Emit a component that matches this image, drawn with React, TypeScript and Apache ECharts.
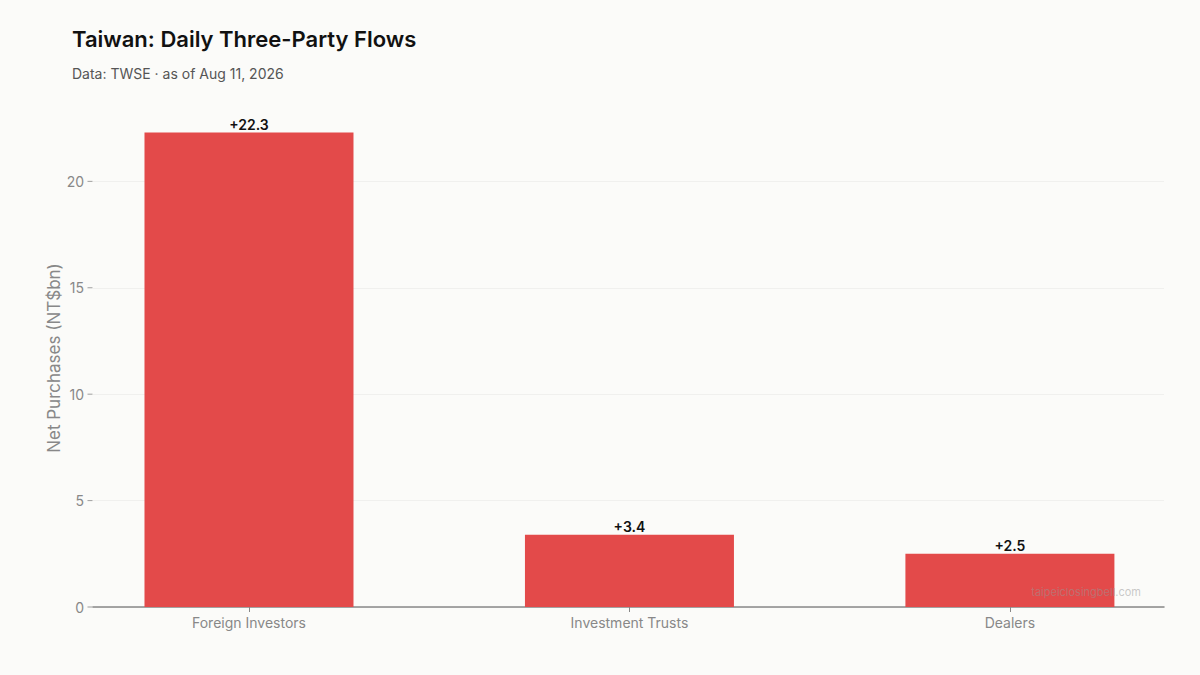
import React, { useEffect, useRef } from 'react';
import * as echarts from 'echarts';

// 三大法人买卖超（NT$bn）
const categories = ['Foreign Investors', 'Investment Trusts', 'Dealers'];
const netPurchases = [22.3, 3.4, 2.5];
const yTicks = [0, 5, 10, 15, 20];

const FONT = 'Inter, "Noto Sans", sans-serif';

const App: React.FC = () => {
  const chartRef = useRef<HTMLDivElement>(null);

  useEffect(() => {
    if (!chartRef.current) return;
    const chart = echarts.init(chartRef.current, undefined, { renderer: 'svg' });

    const option: echarts.EChartsOption = {
      animation: false,
      backgroundColor: '#fbfbf9',
      textStyle: { fontFamily: FONT },
      title: [
        {
          text: 'Taiwan: Daily Three-Party Flows',
          left: 72,
          top: 28,
          padding: 0,
          textStyle: { fontFamily: FONT, fontSize: 22, fontWeight: 600, color: '#111111' },
        },
        {
          text: 'Data: TWSE · as of Aug 11, 2026',
          left: 72,
          top: 66,
          padding: 0,
          textStyle: { fontFamily: FONT, fontSize: 14, fontWeight: 400, color: '#555555' },
        },
      ],
      grid: { left: 93, right: 36, top: 109, bottom: 68 },
      xAxis: {
        type: 'value',
        min: -0.41,
        max: 2.405,
        axisLine: { show: true, lineStyle: { color: '#888888', width: 1.5 } },
        axisTick: { show: true, length: 5, customValues: [0, 1, 2], lineStyle: { color: '#888888' } },
        axisLabel: {
          customValues: [0, 1, 2],
          margin: 8,
          color: '#888888',
          fontSize: 14,
          fontFamily: FONT,
          formatter: (v: number) => categories[Math.round(v)] ?? '',
        },
        splitLine: { show: false },
      },
      yAxis: {
        type: 'value',
        min: 0,
        max: 23.4,
        name: 'Net Purchases (NT$bn)',
        nameLocation: 'middle',
        nameGap: 31,
        nameMoveOverlap: false,
        nameTextStyle: { color: '#888888', fontSize: 17, fontFamily: FONT },
        axisLine: { show: false },
        axisTick: { show: false, customValues: yTicks },
        axisLabel: { customValues: yTicks, margin: 9, color: '#888888', fontSize: 14, fontFamily: FONT },
        splitLine: { show: true, lineStyle: { color: '#f0f0ee', width: 1 } },
      } as any,
      series: [
        {
          type: 'bar',
          data: netPurchases.map((v, i) => [i, v]),
          barWidth: 209,
          itemStyle: { color: '#e34a4a' },
          label: {
            show: true,
            position: 'top',
            distance: 1,
            color: '#111111',
            fontSize: 14,
            fontWeight: 600,
            fontFamily: FONT,
            formatter: (p: any) => `+${p.value[1].toFixed(1)}`,
          },
        },
        {
          // 左侧 y 轴刻度短线
          type: 'scatter',
          data: yTicks.map((v) => [-0.41, v]),
          symbol: 'rect',
          symbolSize: [5, 1],
          symbolOffset: [-3, 0],
          itemStyle: { color: '#888888' },
          silent: true,
          clip: false,
          z: 1,
        },
      ],
      graphic: [
        {
          type: 'text',
          right: 59,
          top: 586,
          z: 100,
          style: {
            text: 'taipeiclosingbell.com',
            fill: 'rgba(150,150,150,0.5)',
            fontSize: 11,
            fontFamily: FONT,
          },
        },
      ],
    };

    chart.setOption(option);
    return () => {
      chart.dispose();
    };
  }, []);

  return (
    <div
      ref={chartRef}
      style={{ position: 'fixed', left: 0, top: 0, width: '1200px', height: '675px' }}
    />
  );
};

export default App;
